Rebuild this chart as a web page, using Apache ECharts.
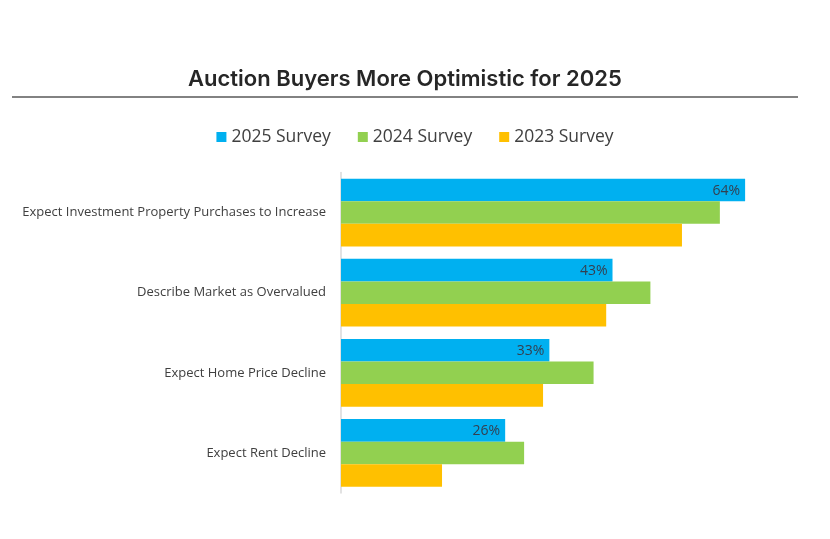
<!DOCTYPE html>
<html>
<head>
<meta charset="utf-8">
<script src="https://cdn.jsdelivr.net/npm/echarts@6/dist/echarts.min.js"></script>
<style>
  html, body { margin: 0; padding: 0; background: #fff; }
  #chart { width: 830px; height: 539px; }
</style>
</head>
<body>
<div id="chart"></div>
<script>
// Categories (top to bottom)
const categories = [
	'Expect Investment Property Purchases to Increase',
	'Describe Market as Overvalued',
	'Expect Home Price Decline',
	'Expect Rent Decline',
];

// Survey results, percent
const survey2025 = [64, 43, 33, 26];
const survey2024 = [60, 49, 40, 29];
const survey2023 = [54, 42, 32, 16];

const seriesNames = ['2025 Survey', '2024 Survey', '2023 Survey'];
const colors = ['#00b0f0', '#92d050', '#ffc000'];

const chart = echarts.init(document.getElementById('chart'));

const option = {
	animation: false,
	color: colors,
	title: {
		text: 'Auction Buyers More Optimistic for 2025',
		left: 183,
		top: 63,
		textStyle: {
			fontFamily: 'Inter',
			fontWeight: 600,
			fontSize: 22,
			color: '#262626',
		},
	},
	graphic: [
		{
			type: 'line',
			shape: { x1: 12, y1: 97, x2: 798, y2: 97 },
			style: { stroke: '#595959', lineWidth: 1.5 },
		},
	],
	legend: {
		top: 123,
		left: 'center',
		itemWidth: 10,
		itemHeight: 10,
		itemGap: 27,
		icon: 'rect',
		textStyle: {
			fontFamily: 'Open Sans',
			fontSize: 17.5,
			color: '#404040',
		},
		data: seriesNames,
	},
	grid: {
		left: 341,
		right: 47,
		top: 172.5,
		bottom: 46,
		containLabel: false,
	},
	xAxis: {
		type: 'value',
		min: 0,
		max: 70,
		show: false,
	},
	yAxis: {
		type: 'category',
		inverse: true,
		data: categories,
		axisLine: { show: true, lineStyle: { color: '#d9d9d9', width: 1.5 } },
		axisTick: { show: false },
		axisLabel: {
			margin: 15,
			fontFamily: 'Open Sans',
			fontSize: 13,
			color: '#404040',
		},
	},
	series: [
		{
			name: seriesNames[0],
			type: 'bar',
			data: survey2025,
			barGap: 0,
			barCategoryGap: '15.6%',
			label: {
				show: true,
				position: 'insideRight',
				offset: [0, 1],
				formatter: '{c}%',
				fontFamily: 'Open Sans',
				fontSize: 14,
				color: '#333f4f',
			},
		},
		{
			name: seriesNames[1],
			type: 'bar',
			data: survey2024,
			barGap: 0,
			barCategoryGap: '15.6%',
		},
		{
			name: seriesNames[2],
			type: 'bar',
			data: survey2023,
			barGap: 0,
			barCategoryGap: '15.6%',
		},
	],
};

chart.setOption(option);
</script>
</body>
</html>
